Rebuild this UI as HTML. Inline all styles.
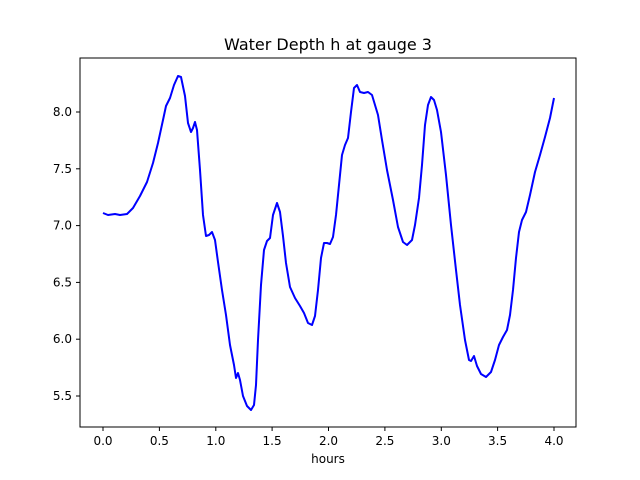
<!DOCTYPE html>
<html><head><style>body{margin:0;background:#fff}svg{display:block}text{font-family:"DejaVu Sans","Liberation Sans",sans-serif;fill:#000}</style></head><body>
<svg width="640" height="480" viewBox="0 0 640 480">
<rect width="640" height="480" fill="#fff"/>
<text x="328" y="50" font-size="16" text-anchor="middle">Water Depth h at gauge 3</text>
<polyline fill="none" stroke="#0000ff" stroke-width="2" stroke-linejoin="round" points="103,213 108,215 115,214 120,215 127,214 133,208 140,196 147,182 153,163 158,143 163,120 166,106 170,98 174,85 178,76 181,77 185,96 188,123 191,132 193,128 195,122 197,130 200,170 203,215 206,236 209,235 212,232 215,240 218,262 222,290 226,315 230,345 234,365 236,378 238,373 240,380 243,396 247,406 251,410 254,405 256,385 258,340 261,285 264,250 267,241 270,238 273,215 277,203 280,212 283,236 286,263 290,287 295,298 300,306 304,313 308,323 312,325 315,316 318,290 321,258 324,243 327,243 330,244 333,237 336,215 339,185 342,155 345,145 348,138 351,112 354,88 357,85 360,92 364,93 368,92 372,95 375,105 378,115 382,140 387,170 393,200 398,227 403,242 407,245 412,240 415,225 419,198 422,165 425,125 428,105 431,97 434,100 437,110 441,132 446,175 451,225 456,270 460,305 465,340 469,360 471,361 474,356 477,366 481,374 486,377 491,372 495,360 499,345 503,337 507,330 510,315 513,290 516,258 519,232 522,220 526,212 530,195 535,172 540,155 545,137 550,118 554,98"/>
<rect x="80" y="58" width="496" height="369" fill="none" stroke="#000" stroke-width="1"/>
<g stroke="#000" stroke-width="1">
<line x1="103" y1="427" x2="103" y2="431"/><line x1="159.4" y1="427" x2="159.4" y2="431"/><line x1="215.8" y1="427" x2="215.8" y2="431"/><line x1="272.1" y1="427" x2="272.1" y2="431"/><line x1="328.5" y1="427" x2="328.5" y2="431"/><line x1="384.9" y1="427" x2="384.9" y2="431"/><line x1="441.3" y1="427" x2="441.3" y2="431"/><line x1="497.6" y1="427" x2="497.6" y2="431"/><line x1="554" y1="427" x2="554" y2="431"/>
<line x1="76" y1="396" x2="80" y2="396"/><line x1="76" y1="339.2" x2="80" y2="339.2"/><line x1="76" y1="282.4" x2="80" y2="282.4"/><line x1="76" y1="225.6" x2="80" y2="225.6"/><line x1="76" y1="168.8" x2="80" y2="168.8"/><line x1="76" y1="112" x2="80" y2="112"/>
</g>
<g font-size="12" text-anchor="middle">
<text x="103" y="445">0.0</text><text x="159.4" y="445">0.5</text><text x="215.8" y="445">1.0</text><text x="272.1" y="445">1.5</text><text x="328.5" y="445">2.0</text><text x="384.9" y="445">2.5</text><text x="441.3" y="445">3.0</text><text x="497.6" y="445">3.5</text><text x="554" y="445">4.0</text>
<text x="328" y="463">hours</text>
</g>
<g font-size="12" text-anchor="end">
<text x="72" y="400">5.5</text><text x="72" y="343.2">6.0</text><text x="72" y="286.4">6.5</text><text x="72" y="229.6">7.0</text><text x="72" y="172.8">7.5</text><text x="72" y="116">8.0</text>
</g>
</svg>
</body></html>
